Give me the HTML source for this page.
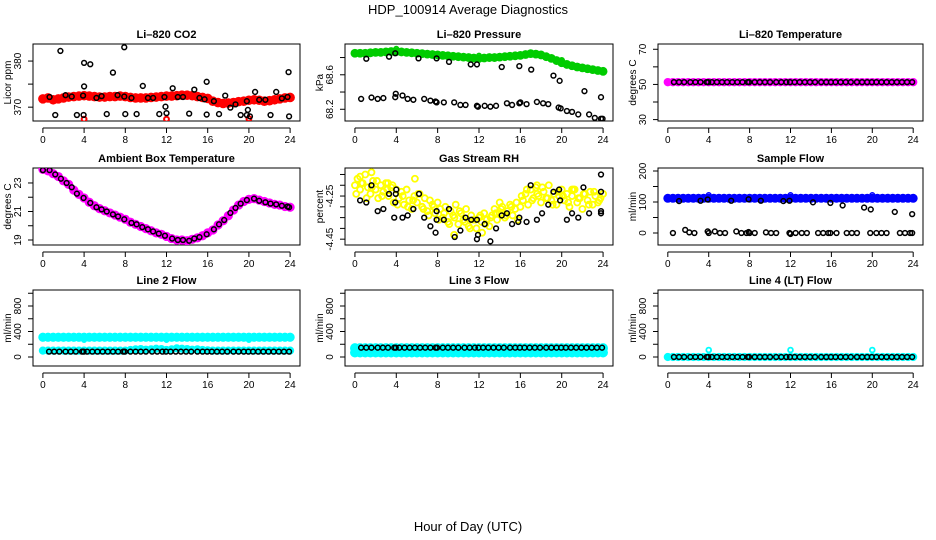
<!DOCTYPE html>
<html><head><meta charset="utf-8"><style>
html,body{margin:0;padding:0;background:#fff;}
svg{display:block;font-family:"Liberation Sans",Arial,sans-serif;}
</style></head><body>
<svg id="chart" width="936" height="540" viewBox="0 0 936 540" xmlns="http://www.w3.org/2000/svg">
<rect width="936" height="540" fill="#fff"/>
<text x="468" y="14" text-anchor="middle" font-size="13">HDP_100914  Average Diagnostics</text>
<text x="468" y="531" text-anchor="middle" font-size="13">Hour of Day (UTC)</text>
</svg>
<script>
// ---- data ----
const xTicks = [0,4,8,12,16,20,24];
const blackHours = [0.6,1.1,1.6,2.2,2.7,3.2,3.8,3.95,4.3,4.8,5.3,5.8,6.3,6.8,7.3,7.8,7.95,8.5,9.0,9.5,10.0,10.6,11.1,11.6,11.95,12.4,12.9,13.4,13.9,14.4,15.0,15.5,15.95,16.4,16.9,17.4,17.9,18.5,19.0,19.5,19.95,20.4,20.9,21.4,21.9,22.4,22.9,23.4,23.9];

const co2Red = [371.8,372,371.6,371.8,372,372.2,372.3,372.4,372.5,372.4,372.3,372.2,372.2,372.3,372.3,372.4,372.3,372.1,372.0,372.0,372.0,372.1,372.2,372.3,372.4,372.4,372.5,372.6,372.6,372.5,372.3,372.1,371.9,371.3,371.0,370.8,370.9,371.0,371.2,371.3,371.5,371.6,371.5,371.3,371.4,371.6,371.8,372.0,372.1];
const co2RedOutHours = [4,12,20];
const co2RedOutVals = [367.4,367.4,367.5];
const co2BlackHours = [0.65,1.7,1.2,2.2,2.8,3.3,3.95,4.0,4.0,3.9,4.6,5.2,5.7,6.2,6.8,7.25,7.9,7.9,8.0,8.6,9.1,9.7,10.2,10.7,11.3,11.8,11.9,12.0,12.6,13.1,13.6,14.2,14.7,15.2,15.7,15.9,15.9,16.6,17.1,17.7,18.2,18.7,19.2,19.8,19.8,19.9,20.1,20.6,21.0,21.6,22.1,22.65,23.2,23.75,23.85,23.9];
const co2BlackVals = [372.2,382.2,368.3,372.6,372.3,368.3,368.3,379.6,374.5,372.5,379.3,372,372.4,368.5,377.5,372.6,383,372.3,368.5,372,368.5,374.6,372,372,368.5,372.2,370.1,368.7,374.1,372.2,372.2,368.6,373.8,372,371.7,375.5,368.4,371.3,368.5,372.5,369.9,370.6,368.3,368.3,371.3,369.4,368,373.3,371.6,371.6,368.3,373.3,371.9,372.2,377.6,368];

const presGreen = [68.85,68.85,68.85,68.855,68.86,68.86,68.865,68.87,68.87,68.865,68.86,68.855,68.85,68.845,68.84,68.835,68.83,68.825,68.82,68.815,68.81,68.805,68.8,68.795,68.79,68.795,68.8,68.8,68.805,68.81,68.815,68.82,68.825,68.835,68.845,68.84,68.83,68.81,68.79,68.765,68.74,68.72,68.705,68.69,68.68,68.67,68.66,68.65,68.64];
const presGreenOutHours = [4,12,20];
const presGreenOutVals = [68.9,68.82,68.77];
const presBlackHours = [1.1,3.3,3.9,6.15,7.9,9.1,11.2,11.8,14.2,15.9,17.05,19.2,19.8,22.2,23.8,0.6,1.6,2.2,2.75,3.9,3.95,4.6,5.1,5.65,6.7,7.3,7.8,7.9,8.6,9.6,10.2,10.7,11.8,11.9,12.55,13.1,13.65,14.7,15.2,15.9,16,16.6,17.6,18.2,18.7,19.7,19.9,20.5,21,21.6,22.65,23.2,23.8,23.95];
const presBlackVals = [68.786,68.81,68.85,68.79,68.79,68.75,68.72,68.72,68.69,68.70,68.66,68.59,68.53,68.41,68.34,68.32,68.336,68.32,68.33,68.34,68.38,68.36,68.32,68.31,68.32,68.3,68.29,68.28,68.28,68.28,68.25,68.25,68.24,68.23,68.24,68.23,68.24,68.27,68.25,68.27,68.28,68.26,68.285,68.27,68.26,68.22,68.21,68.18,68.17,68.14,68.14,68.1,68.09,68.09];

const tempMagenta = [51.3,51.3,51.3,51.3,51.3,51.3,51.3, 51.3,51.3,51.3,51.3,51.3,51.3,51.3, 51.3,51.3,51.3,51.3,51.3,51.3,51.3, 51.3,51.3,51.3,51.3,51.3,51.3,51.3, 51.3,51.3,51.3,51.3,51.3,51.3,51.3, 51.3,51.3,51.3,51.3,51.3,51.3,51.3, 51.3,51.3,51.3,51.3,51.3,51.3,51.3];
const tempBlack = [51.3,51.3,51.3,51.3,51.3,51.3,51.3, 51.3,51.3,51.3,51.3,51.3,51.3,51.3, 51.3,51.3,51.3,51.3,51.3,51.3,51.3, 51.3,51.3,51.3,51.3,51.3,51.3,51.3, 51.3,51.3,51.3,51.3,51.3,51.3,51.3, 51.3,51.3,51.3,51.3,51.3,51.3,51.3, 51.3,51.3,51.3,51.3,51.3,51.3,51.3];

const ambMagenta = [23.95,23.85,23.65,23.45,23.15,22.9,22.5,22.2,21.95,21.65,21.4,21.2,21.05,20.9,20.75,20.6,20.45,20.25,20.1,19.95,19.8,19.65,19.5,19.4,19.25,19.1,19.0,19.0,18.95,19.05,19.15,19.3,19.5,19.7,20.05,20.35,20.7,21.1,21.45,21.7,21.85,21.9,21.8,21.7,21.6,21.5,21.45,21.35,21.3];
const ambBlackHours = [0,0.65,1.2,1.75,2.3,2.8,3.3,3.95,4.6,5.2,5.7,6.2,6.8,7.3,7.9,8.6,9.1,9.65,10.2,10.7,11.25,11.85,12.55,13.1,13.6,14.2,14.7,15.2,15.9,16.6,17.1,17.6,18.2,18.7,19.2,19.8,20.5,21.0,21.6,22.1,22.65,23.2,23.75,23.9];
const ambBlackVals = [23.9,23.9,23.6,23.3,23.0,22.7,22.25,21.95,21.6,21.3,21.15,21.0,20.8,20.65,20.45,20.2,20.1,19.9,19.75,19.6,19.45,19.3,19.1,19.0,19.0,18.95,19.1,19.2,19.4,19.75,20.1,20.4,20.9,21.25,21.55,21.8,21.9,21.75,21.65,21.55,21.5,21.4,21.35,21.3];

const rhYellow = [-4.20,-4.17,-4.22,-4.19,-4.15,-4.21,-4.24,-4.18,-4.22,-4.26,-4.20,-4.23,-4.19,-4.25,-4.21,-4.28,-4.22,
 -4.26,-4.23,-4.29,-4.22,-4.27,-4.31,-4.25,-4.28,-4.24,-4.30,-4.26,-4.32,-4.27,-4.29,-4.33,-4.28,
 -4.31,-4.35,-4.30,-4.37,-4.32,-4.34,-4.29,-4.38,-4.33,-4.36,-4.31,-4.39,-4.34,-4.36,-4.40,-4.35,
 -4.37,-4.33,-4.36,-4.39,-4.34,-4.31,-4.36,-4.33,-4.30,-4.35,-4.32,-4.29,-4.34,-4.31,-4.36,-4.30,
 -4.27,-4.24,-4.29,-4.22,-4.26,-4.21,-4.25,-4.28,-4.23,-4.26,-4.20,-4.27,-4.24,-4.29,-4.25,-4.22,
 -4.27,-4.24,-4.30,-4.25,-4.22,-4.28,-4.26,-4.31,-4.24,-4.27,-4.23,-4.29,-4.25,-4.28,-4.26,-4.24];
const rhYellow2 = [-4.24,-4.19,-4.26,-4.21,-4.18,-4.25,-4.22,-4.20,-4.29,-4.25,-4.30,-4.27,-4.24,-4.31,-4.34,-4.30,-4.36,-4.33,-4.38,-4.35,-4.32,-4.37,-4.40,-4.36,-4.34,-4.38,-4.35,-4.33,-4.31,-4.34,-4.30,-4.28,-4.25,-4.22,-4.27,-4.24,-4.21,-4.26,-4.29,-4.23,-4.25,-4.28,-4.22,-4.26,-4.24,-4.29,-4.23,-4.27];
const rhYellowOutHours = [0.5,1.6,3.2,5.8,14,17.6,21,9.6,12.3];
const rhYellowOutVals = [-4.16,-4.14,-4.19,-4.17,-4.28,-4.20,-4.22,-4.43,-4.42];
const rhBlackHours = [0.5,1.1,1.6,2.2,2.75,3.8,3.9,3.95,4,3.3,4.6,5.1,5.65,6.2,6.7,7.3,7.8,7.9,7.9,8.6,9.1,9.65,10.2,10.7,11.25,11.8,11.9,11.8,13.1,12.55,13.65,14.2,14.7,15.2,15.9,15.8,16.6,17.0,17.6,18.1,18.7,19.2,19.75,19.85,20.5,21,21.6,22.1,22.65,23.8,23.8,23.8,23.8];
const rhBlackVals = [-4.27,-4.28,-4.20,-4.32,-4.31,-4.35,-4.28,-4.24,-4.22,-4.24,-4.35,-4.34,-4.31,-4.24,-4.35,-4.39,-4.42,-4.36,-4.32,-4.36,-4.31,-4.44,-4.41,-4.35,-4.36,-4.36,-4.43,-4.45,-4.46,-4.38,-4.40,-4.34,-4.33,-4.38,-4.35,-4.37,-4.37,-4.20,-4.36,-4.33,-4.29,-4.23,-4.22,-4.27,-4.36,-4.33,-4.35,-4.21,-4.33,-4.15,-4.23,-4.32,-4.33];

const sampleBlue = [112,112,112,112,112,112,112, 112,112,112,112,112,112,112, 112,112,112,112,112,112,112, 112,112,112,112,112,112,112, 112,112,112,112,112,112,112, 112,112,112,112,112,112,112, 112,112,112,112,112,112,112];
const sampleBlueOutHours = [4,12,20];
const sampleBlueOutVals = [122,122,122];
const sampleBlackHours = [1.1,3.2,3.9,6.2,7.9,9.1,11.3,11.9,14.2,15.9,17.1,19.2,19.85,22.2,23.9,0.5,1.7,2.1,2.6,3.9,4.0,4.6,5.1,5.6,6.7,7.2,7.7,7.9,8.0,8.5,9.6,10.1,10.6,11.9,12.0,12.5,13.1,13.6,14.7,15.2,15.7,15.9,16.5,17.5,18.0,18.5,19.8,20.4,20.9,21.4,22.7,23.2,23.7,23.9];
const sampleBlackVals = [103,104,108,104,109,104,103,104,99,97,89,82,76,68,61,0,10,2,0,5,0,5,0,0,5,0,0,3,0,0,2,0,0,0,-3,0,0,0,0,0,0,0,0,0,0,0,0,0,0,0,0,0,0,0];

const line2CyanHigh = [310,310,310,310,310,310,310, 310,310,310,310,310,310,310, 310,310,310,310,310,310,310, 310,310,310,310,310,310,310, 310,310,310,310,310,310,310, 310,310,310,310,310,310,310, 310,310,310,310,310,310,310];
const line2CyanLow = [100,100,100,100,100,100,100, 100,100,100,100,100,100,100, 100,100,100,110,120,125,115, 120,130,125,110,120,135,130, 125,115,120,110,105,100,100, 100,100,100,100,100,100,100, 100,100,100,100,100,100,100];
const line2CyanOutHours = [4,12,20];
const line2CyanOutVals = [270,270,270];
const line2Black = [85,85,85,85,85,85,85, 85,85,85,85,85,85,85, 85,85,85,85,85,85,85, 85,85,85,85,85,85,85, 85,85,85,85,85,85,85, 85,85,85,85,85,85,85, 85,85,85,85,85,85,85];

const line3CyanHigh = [140,140,140,140,140,140,140, 140,140,140,140,140,140,140, 140,140,140,140,140,140,140, 140,140,140,140,140,140,140, 140,140,140,140,140,140,140, 140,140,140,140,140,140,140, 140,140,140,140,140,140,140];
const line3CyanLow = [70,70,70,70,70,70,70, 70,70,70,70,70,70,70, 70,70,70,70,70,70,70, 70,70,70,70,70,70,70, 70,70,70,70,70,70,70, 70,70,70,70,70,70,70, 70,70,70,70,70,70,70];
const line3Black = [146,146,146,146,146,146,146, 146,146,146,146,146,146,146, 146,146,146,146,146,146,146, 146,146,146,146,146,146,146, 146,146,146,146,146,146,146, 146,146,146,146,146,146,146, 146,146,146,146,146,146,146];

const line4Cyan = [0,0,0,0,0,0,0, 0,0,0,0,0,0,0, 0,0,0,0,0,0,0, 0,0,0,0,0,0,0, 0,0,0,0,0,0,0, 0,0,0,0,0,0,0, 0,0,0,0,0,0,0];
const line4CyanOutHours = [4,12,20];
const line4CyanOutVals = [110,110,110];
const line4Black = [0,0,0,0,0,0,0, 0,0,0,0,0,0,0, 0,0,0,0,0,0,0, 0,0,0,0,0,0,0, 0,0,0,0,0,0,0, 0,0,0,0,0,0,0, 0,0,0,0,0,0,0];

const bandHours = [];
for (let i = 0; i <= 48; i++) bandHours.push(i * 0.5);
const rhHours = [];
for (let i = 0; i <= 96; i++) rhHours.push(i * 0.25);
const rhHours2 = [];
for (let i = 0; i < 48; i++) rhHours2.push(i * 0.5 + 0.125);

// ---- drawing ----
const NS = 'http://www.w3.org/2000/svg';
const svg = document.getElementById('chart');
function mk(tag, attrs, parent) {
  const e = document.createElementNS(NS, tag);
  for (const k in attrs) e.setAttribute(k, attrs[k]);
  (parent || svg).appendChild(e);
  return e;
}
const cols = [[33,300],[345,613],[658,923]];
const rows = [[44,121],[168,245],[290,366]];

function makePanel(name, col, row, ylim, yticks, ylabels, ylab, title) {
  const g = mk('g', {});
  
  
  const [x0, x1] = cols[col], [y0, y1] = rows[row];
  const xs = h => x0 + (h + 0.96) / 25.92 * (x1 - x0);
  const ys = v => y1 - (v - ylim[0]) / (ylim[1] - ylim[0]) * (y1 - y0);
  const box = mk('rect', {x: x0, y: y0, width: x1 - x0, height: y1 - y0, fill: 'none', stroke: '#000', 'stroke-width': 1}, g);
  
  
  const t = mk('text', {x: (x0 + x1) / 2, y: y0 - 6, 'text-anchor': 'middle', 'font-size': 11, 'font-weight': 'bold'}, g);
  t.textContent = title;
  
  
  const xa = mk('g', {}, g);
  
  
  const ay = y1 + 7;
  mk('line', {x1: xs(xTicks[0]), x2: xs(xTicks[xTicks.length - 1]), y1: ay, y2: ay, stroke: '#000'}, xa);
  xTicks.forEach(v => {
    mk('line', {x1: xs(v), x2: xs(v), y1: ay, y2: ay + 5, stroke: '#000'}, xa);
    const l = mk('text', {x: xs(v), y: ay + 15, 'text-anchor': 'middle', 'font-size': 10}, xa);
    l.textContent = v;
    
    
  });
  const ya = mk('g', {}, g);
  
  
  mk('line', {x1: x0, x2: x0, y1: ys(yticks[0]), y2: ys(yticks[yticks.length - 1]), stroke: '#000'}, ya);
  yticks.forEach(v => {
    mk('line', {x1: x0 - 5, x2: x0, y1: ys(v), y2: ys(v), stroke: '#000'}, ya);
  });
  ylabels.forEach(v => {
    const cx = x0 - 12, cy = ys(v);
    const l = mk('text', {x: cx, y: cy, 'text-anchor': 'middle', 'font-size': 10, transform: 'rotate(-90 ' + cx + ' ' + cy + ')'}, ya);
    l.textContent = String(v);
    
    
  });
  const lx = x0 - 22, ly = (y0 + y1) / 2;
  const yl = mk('text', {x: lx, y: ly, 'text-anchor': 'middle', 'font-size': 10, transform: 'rotate(-90 ' + lx + ' ' + ly + ')'}, g);
  yl.textContent = ylab;
  
  
  const clipId = 'clip-' + name;
  const cp = mk('clipPath', {id: clipId}, g);
  mk('rect', {x: x0, y: y0, width: x1 - x0, height: y1 - y0}, cp);
  const pg = mk('g', {'clip-path': 'url(#' + clipId + ')'}, g);
  return {
    pts(hours, vals, color, r, sw, sname, filled) {
      const sg = mk('g', {}, pg);
      
      
      const n = Math.min(hours.length, vals.length);
      for (let i = 0; i < n; i++) {
        const c = mk('circle', {cx: xs(hours[i]), cy: ys(vals[i]), r: r, fill: filled ? color : 'none', stroke: color, 'stroke-width': sw}, sg);
        
        
      }
    }
  };
}
const BR = 3.5, BW = 2.6, KR = 2.4, KW = 1.5;

let p = makePanel('co2', 0, 0, [367, 383.7], [370,375,380], [370,380], 'Licor ppm', 'Li\u2013820 CO2');
p.pts(bandHours, co2Red, '#ff0000', BR, BW, 'co2-red-series', true);
p.pts(co2RedOutHours, co2RedOutVals, '#ff0000', KR, 2, 'co2-red-outliers');
p.pts(co2BlackHours, co2BlackVals, '#000', KR, KW, 'co2-black-series');

p = makePanel('pressure', 1, 0, [68.064, 68.957], [68.2,68.4,68.6,68.8], [68.2,68.6], 'kPa', 'Li\u2013820 Pressure');
p.pts(bandHours, presGreen, '#00cc00', 3.2, 2.4, 'pressure-green-series', true);
p.pts(presGreenOutHours, presGreenOutVals, '#00cc00', KR, KW, 'pressure-green-outliers');
p.pts(presBlackHours, presBlackVals, '#000', KR, KW, 'pressure-black-series');

p = makePanel('li-temp', 2, 0, [29.2, 73], [30,40,50,60,70], [30,50,70], 'degrees C', 'Li\u2013820 Temperature');
p.pts(bandHours, tempMagenta, '#ff00ff', 3, 2.4, 'li-temp-magenta-series', true);
p.pts(blackHours, tempBlack, '#000', KR, KW, 'li-temp-black-series');

p = makePanel('ambient', 0, 1, [18.65, 24.05], [19,20,21,22,23], [19,21,23], 'degrees C', 'Ambient Box Temperature');
p.pts(bandHours, ambMagenta, '#ff00ff', 3.3, 2.6, 'ambient-magenta-series', true);
p.pts(ambBlackHours, ambBlackVals, '#000', KR, KW, 'ambient-black-series');

p = makePanel('rh', 1, 1, [-4.477, -4.12], [-4.15,-4.2,-4.25,-4.3,-4.35,-4.4,-4.45], [-4.25,-4.45], 'percent', 'Gas Stream RH');
p.pts(rhHours, rhYellow, '#ffff00', 3, 1.8, 'rh-yellow-series');
p.pts(rhHours2, rhYellow2, '#ffff00', 3, 1.8, 'rh-yellow-series-2');
p.pts(rhYellowOutHours, rhYellowOutVals, '#ffff00', 3, 1.8, 'rh-yellow-outliers');
p.pts(rhBlackHours, rhBlackVals, '#000', KR, KW, 'rh-black-series');

p = makePanel('sample-flow', 2, 1, [-38.7, 209.7], [0,50,100,150,200], [0,100,200], 'ml/min', 'Sample Flow');
p.pts(bandHours, sampleBlue, '#0000ff', 3.2, 2.6, 'sample-blue-series', true);
p.pts(sampleBlueOutHours, sampleBlueOutVals, '#0000ff', KR, KW, 'sample-blue-outliers');
p.pts(sampleBlackHours, sampleBlackVals, '#000', KR, KW, 'sample-black-series');

const fl = [-141, 1051], ft = [0,200,400,600,800,1000], fll = [0,400,800];
p = makePanel('line2', 0, 2, fl, ft, fll, 'ml/min', 'Line 2 Flow');
p.pts(bandHours, line2CyanHigh, '#00ffff', 3.3, 2.6, 'line2-cyan-high-series', true);
p.pts(line2CyanOutHours, line2CyanOutVals, '#00ffff', KR, KW, 'line2-cyan-outliers');
p.pts(bandHours, line2CyanLow, '#00ffff', 3, 2.2, 'line2-cyan-low-series', true);
p.pts(blackHours, line2Black, '#000', KR, KW, 'line2-black-series');

p = makePanel('line3', 1, 2, fl, ft, fll, 'ml/min', 'Line 3 Flow');
p.pts(bandHours, line3CyanHigh, '#00ffff', 3.5, 2.8, 'line3-cyan-high-series', true);
p.pts(bandHours, line3CyanLow, '#00ffff', 3.5, 2.8, 'line3-cyan-low-series', true);
p.pts(blackHours, line3Black, '#000', KR, KW, 'line3-black-series');

p = makePanel('line4', 2, 2, fl, ft, fll, 'ml/min', 'Line 4 (LT) Flow');
p.pts(bandHours, line4Cyan, '#00ffff', 3, 2.2, 'line4-cyan-series', true);
p.pts(line4CyanOutHours, line4CyanOutVals, '#00ffff', KR, 1.8, 'line4-cyan-outliers');
p.pts(blackHours, line4Black, '#000', KR, KW, 'line4-black-series');
</script>
</body></html>
